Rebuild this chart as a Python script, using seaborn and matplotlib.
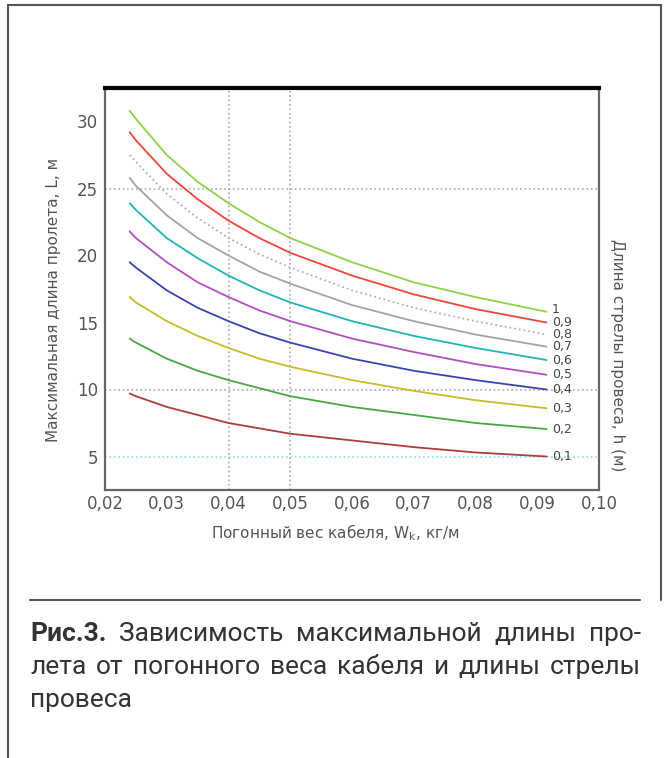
import matplotlib
matplotlib.use("Agg")
import matplotlib.pyplot as plt
import seaborn as sns
from matplotlib.lines import Line2D
from matplotlib.ticker import FuncFormatter

sns.set_style("white")
plt.rcParams["font.family"] = ["DejaVu Sans"]

# погонный вес кабеля, кг/м (точки)
weight = [0.024, 0.025, 0.03, 0.035, 0.04, 0.045, 0.05, 0.06, 0.07, 0.08, 0.0915]

# максимальная длина пролета, м, для каждой стрелы провеса
span_h10 = [30.8, 30.2, 27.5, 25.5, 23.9, 22.5, 21.3, 19.5, 18.0, 16.9, 15.8]
span_h09 = [29.2, 28.6, 26.1, 24.2, 22.6, 21.3, 20.2, 18.5, 17.1, 16.0, 15.0]
span_h08 = [27.5, 27.0, 24.6, 22.8, 21.3, 20.1, 19.1, 17.4, 16.1, 15.1, 14.1]
span_h07 = [25.8, 25.2, 23.0, 21.3, 20.0, 18.8, 17.9, 16.3, 15.1, 14.1, 13.2]
span_h06 = [23.9, 23.4, 21.3, 19.8, 18.5, 17.4, 16.5, 15.1, 14.0, 13.1, 12.2]
span_h05 = [21.8, 21.3, 19.5, 18.0, 16.9, 15.9, 15.1, 13.8, 12.8, 11.9, 11.1]
span_h04 = [19.5, 19.1, 17.4, 16.1, 15.1, 14.2, 13.5, 12.3, 11.4, 10.7, 10.0]
span_h03 = [16.9, 16.5, 15.1, 14.0, 13.1, 12.3, 11.7, 10.7, 9.9, 9.2, 8.6]
span_h02 = [13.8, 13.5, 12.3, 11.4, 10.7, 10.1, 9.5, 8.7, 8.1, 7.5, 7.05]
span_h01 = [9.7, 9.5, 8.7, 8.1, 7.5, 7.1, 6.7, 6.2, 5.7, 5.3, 5.0]

spans = [span_h10, span_h09, span_h08, span_h07, span_h06,
         span_h05, span_h04, span_h03, span_h02, span_h01]
sag_labels = ["1", "0,9", "0,8", "0,7", "0,6", "0,5", "0,4", "0,3", "0,2", "0,1"]
sag_colors = ["#8ed24a", "#f0463c", "#a8aed0", "#a4a4a4", "#22b4b4",
              "#b050c0", "#3a44b0", "#c8bc2c", "#48a840", "#b03c3c"]
sag_styles = ["-", "-", ":", "-", "-", "-", "-", "-", "-", "-"]

x_ticks = [0.02, 0.03, 0.04, 0.05, 0.06, 0.07, 0.08, 0.09, 0.10]
y_ticks = [5, 10, 15, 20, 25, 30]

caption_rows = [
    [("Рис.3.", True), ("Зависимость", False), ("максимальной", False),
     ("длины", False), ("про-", False)],
    [("лета", False), ("от", False), ("погонного", False), ("веса", False),
     ("кабеля", False), ("и", False), ("длины", False), ("стрелы", False)],
    [("провеса", False)],
]

W, H = 669, 758
fig = plt.figure(figsize=(W / 100, H / 100), dpi=100)
ax = fig.add_axes([105 / W, 1 - 490 / H, 494 / W, 402 / H])

for k, (ys, lab, col, ls) in enumerate(zip(spans, sag_labels, sag_colors, sag_styles)):
    sns.lineplot(x=weight, y=ys, ax=ax, color=col, linestyle=ls, linewidth=1.3)
    ax.annotate(lab, xy=(weight[-1], ys[-1]), xytext=(4, 2 if k == 0 else 0),
                textcoords="offset points", ha="left", va="center",
                fontsize=9, color="#444444")

for xv in [0.04, 0.05]:
    ax.axvline(xv, color="#aaaaaa", linestyle=":", linewidth=1.2, zorder=0)
for yv in [25, 10]:
    ax.axhline(yv, color="#aaaaaa", linestyle=":", linewidth=1.2, zorder=0)
ax.axhline(5, color="#80e0e8", linestyle=":", linewidth=1.2, zorder=0)

ax.set_xlim(0.02, 0.10)
ax.set_ylim(2.5, 32.5)
ax.set_xticks(x_ticks)
ax.set_yticks(y_ticks)
ax.xaxis.set_major_formatter(FuncFormatter(lambda v, p: f"{v:.2f}".replace(".", ",")))
ax.tick_params(axis="both", labelsize=12, labelcolor="#555555", colors="#555555")
ax.tick_params(axis="x", direction="in", length=3)
ax.tick_params(axis="y", direction="out", length=3, pad=2)
ax.set_xlabel("")
ax.set_ylabel("")

ax.spines["top"].set_color("black")
ax.spines["top"].set_linewidth(3)
for side in ["left", "bottom", "right"]:
    ax.spines[side].set_color("#666666")
    ax.spines[side].set_linestyle((0, (1, 1)))
    ax.spines[side].set_linewidth(1.6)

fig.text(54 / W, 1 - 300 / H, "Максимальная длина пролета, L, м", rotation=90,
         ha="center", va="center", fontsize=11, color="#555555")
fig.text(618 / W, 1 - 355 / H, "Длина стрелы провеса, h (м)", rotation=270,
         ha="center", va="center", fontsize=11, color="#555555")
fig.text(335 / W, 1 - 533 / H, r"Погонный вес кабеля, W$_\mathregular{k}$, кг/м",
         ha="center", va="center", fontsize=11, color="#555555")

# рамка и разделитель подписи
frame = [((8, 8), (5, H)), ((8, 661), (5, 5)), ((661, 661), (5, 600)),
         ((30, 640), (600, 600))]
for xs, ys in frame:
    fig.add_artist(Line2D([x / W for x in xs], [1 - y / H for y in ys],
                          color="#555555", linewidth=1.5))

# подпись с выравниванием по ширине
fig.canvas.draw()
renderer = fig.canvas.get_renderer()
x_left, x_right = 30, 641
baselines = [641, 674, 707]
for i, (row, base) in enumerate(zip(caption_rows, baselines)):
    texts = [fig.text(0, 1 - base / H, word, fontsize=19, family="Roboto",
                      fontweight="bold" if bold else "normal",
                      color="#333333", va="baseline", ha="left")
             for word, bold in row]
    widths = [t.get_window_extent(renderer).width for t in texts]
    if i < len(caption_rows) - 1 and len(texts) > 1:
        gap = (x_right - x_left - sum(widths)) / (len(texts) - 1)
    else:
        gap = 6
    x = x_left
    for t, wd in zip(texts, widths):
        t.set_x(x / W)
        x += wd + gap

fig.savefig("out.png", dpi=100)
